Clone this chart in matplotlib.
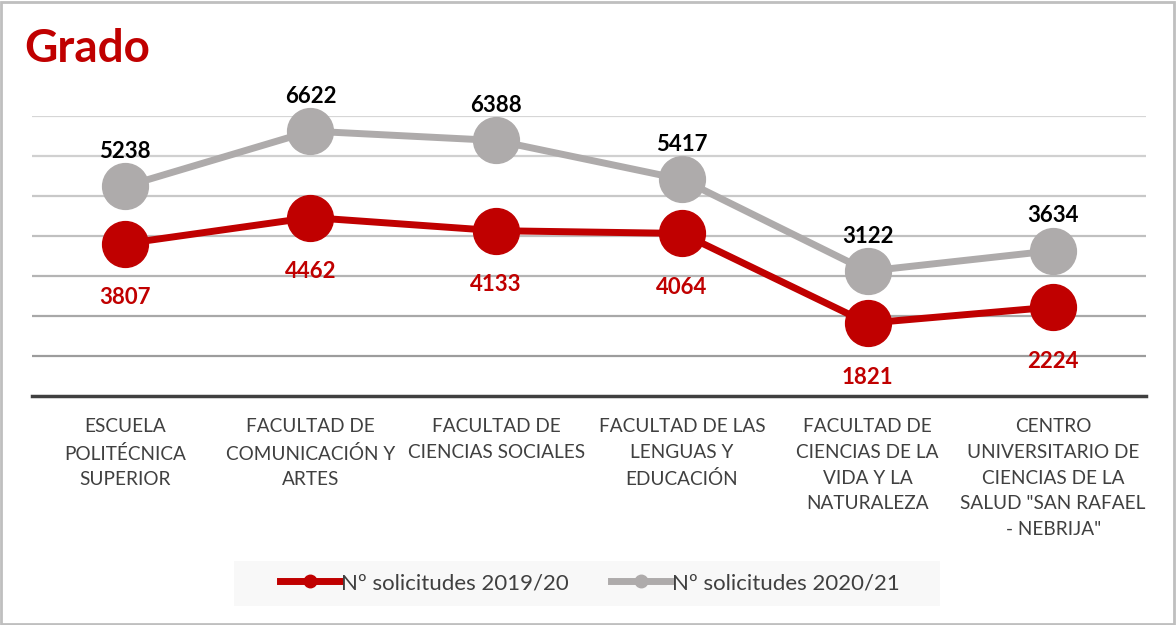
import matplotlib.pyplot as plt
from matplotlib.patches import Rectangle

# Datos
categorias = ["ESCUELA\nPOLITÉCNICA\nSUPERIOR",
              "FACULTAD DE\nCOMUNICACIÓN Y\nARTES",
              "FACULTAD DE\nCIENCIAS SOCIALES",
              "FACULTAD DE LAS\nLENGUAS Y\nEDUCACIÓN",
              "FACULTAD DE\nCIENCIAS DE LA\nVIDA Y LA\nNATURALEZA",
              "CENTRO\nUNIVERSITARIO DE\nCIENCIAS DE LA\nSALUD \"SAN RAFAEL\n- NEBRIJA\""]
sol_1920 = [3807, 4462, 4133, 4064, 1821, 2224]
sol_2021 = [5238, 6622, 6388, 5417, 3122, 3634]
nombre_1920 = "Nº solicitudes 2019/20"
nombre_2021 = "Nº solicitudes 2020/21"

rojo = "#c00000"
gris = "#aeabab"

plt.rcParams['font.family'] = ['Lato', 'DejaVu Sans']

fig = plt.figure(figsize=(11.76, 6.25), dpi=100)
ax = fig.add_axes([0.0272, 0.3664, 0.9473, 0.448])

x = list(range(len(categorias)))

# lineas de cuadricula
grid_cols = ["#d6d6d6", "#d0d0d0", "#c8c8c8", "#c0c0c0", "#b4b4b4", "#a8a8a8", "#9c9c9c"]
for k, c in zip(range(7000, 0, -1000), grid_cols):
    ax.axhline(k, color=c, lw=1.6, zorder=0)

l1, = ax.plot(x, sol_2021, color=gris, lw=5, marker="o", ms=33,
              label=nombre_2021, clip_on=False, zorder=3)
l2, = ax.plot(x, sol_1920, color=rojo, lw=5, marker="o", ms=33,
              label=nombre_1920, clip_on=False, zorder=4)

for i in x:
    ax.annotate(str(sol_2021[i]), (i, sol_2021[i]), xytext=(0, 25),
                textcoords="offset points", ha="center", va="center",
                fontsize=16, fontweight="bold", color="black")
    ax.annotate(str(sol_1920[i]), (i, sol_1920[i]), xytext=(0, -39),
                textcoords="offset points", ha="center", va="center",
                fontsize=16, fontweight="bold", color=rojo)

ax.set_xlim(-0.5, 5.5)
ax.set_ylim(0, 7000)
ax.set_yticks([])
ax.set_xticks(x)
ax.set_xticklabels(categorias, fontsize=13.7, color="#404040", linespacing=1.62, va="top")
ax.tick_params(axis="x", length=0, pad=16)
for s in ["top", "right", "left"]:
    ax.spines[s].set_visible(False)
ax.spines["bottom"].set_color("#404040")
ax.spines["bottom"].set_linewidth(2.5)

fig.text(0.021, 0.922, "Grado", fontsize=33, fontweight="bold", color=rojo,
         ha="left", va="center")

# leyenda
fig.patches.append(Rectangle((234 / 1176, 1 - 606 / 625), 706 / 1176, 45 / 625,
                             transform=fig.transFigure, facecolor="#f8f8f8",
                             edgecolor="none", zorder=0))
h1, = ax.plot([], [], color=rojo, lw=5, marker="o", ms=9)
h2, = ax.plot([], [], color=gris, lw=5, marker="o", ms=9)
fig.legend([h1, h2], [nombre_1920, nombre_2021], loc="center",
           bbox_to_anchor=(590 / 1176, 1 - 583 / 625), ncol=2, frameon=False,
           fontsize=16, handlelength=2.7, handletextpad=0.05, columnspacing=1.9,
           labelcolor="#404040")

# borde
fig.patches.append(Rectangle((0.001, 0.002), 0.997, 0.995, transform=fig.transFigure,
                             facecolor="none", edgecolor="#bfbfbf", lw=2))

fig.savefig("out.png", dpi=100)
